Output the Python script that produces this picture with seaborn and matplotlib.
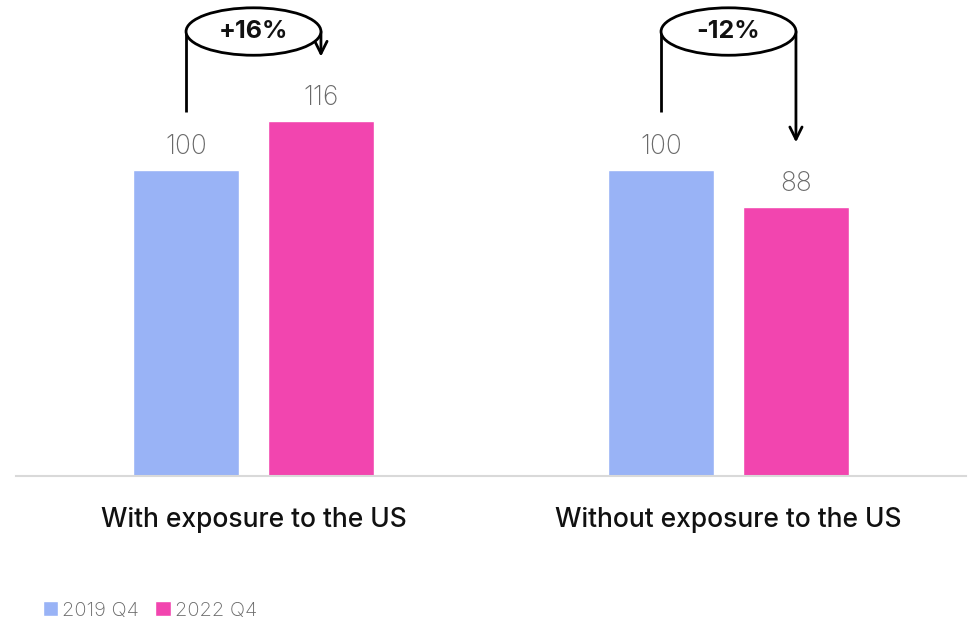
import pandas as pd
import matplotlib.pyplot as plt
import seaborn as sns
from matplotlib.patches import Ellipse, Patch

# data
groups = ['With exposure to the US', 'Without exposure to the US']
periods = ['2019 Q4', '2022 Q4']
values_2019 = [100, 100]
values_2022 = [116, 88]

colors = ['#99B3F6', '#F245AF']

df = pd.DataFrame({
    'group': groups * 2,
    'period': [periods[0]] * 2 + [periods[1]] * 2,
    'value': values_2019 + values_2022,
})

sns.set_theme(style='white')
plt.rcParams['font.family'] = ['Inter', 'DejaVu Sans']

fig = plt.figure(figsize=(9.69, 6.24), dpi=100)
ax = fig.add_axes([16 / 969, 148 / 624, 950 / 969, 476 / 624])

sns.barplot(data=df, x='group', y='value', hue='period', palette=colors,
            width=0.568, gap=0.215, saturation=1, legend=False, ax=ax)

ax.set_xlim(-0.5, 1.5)
ax.set_ylim(0, 155.5)
ax.set_xlabel('')
ax.set_ylabel('')
ax.set_yticks([])
for side in ['left', 'right', 'top']:
    ax.spines[side].set_visible(False)
ax.spines['bottom'].set_color('#D9D9D9')
ax.spines['bottom'].set_linewidth(1.5)
ax.tick_params(axis='x', length=0, pad=22)
for lbl in ax.get_xticklabels():
    lbl.set_fontsize(19)
    lbl.set_fontweight('medium')
    lbl.set_color('#111111')

for cont in ax.containers:
    ax.bar_label(cont, fmt='%d', padding=7, fontsize=19,
                 fontweight='light', color='#6A6A6A')

# change annotations: ellipse with % change, line from old bar, arrow to new bar
ell_y = 145.2
for i in range(len(groups)):
    b0 = ax.containers[0][i]
    b1 = ax.containers[1][i]
    x0 = b0.get_x() + b0.get_width() / 2
    x1 = b1.get_x() + b1.get_width() / 2
    v0 = values_2019[i]
    v1 = values_2022[i]
    pct = (v1 / v0 - 1) * 100
    ax.plot([x0, x0], [ell_y, v0 + 19], color='black', lw=2, solid_capstyle='butt')
    ax.annotate('', xy=(x1, v1 + 21), xytext=(x1, ell_y),
                arrowprops=dict(arrowstyle='->', color='black', lw=2,
                                mutation_scale=22, shrinkA=0, shrinkB=0))
    ax.add_patch(Ellipse(((x0 + x1) / 2, ell_y), x1 - x0, 15.5,
                         facecolor='white', edgecolor='black', lw=2, zorder=5))
    ax.text((x0 + x1) / 2, ell_y, f'{pct:+.0f}%', ha='center', va='center',
            fontsize=18, fontweight='bold', color='#111111', zorder=6)

handles = [Patch(facecolor=c, label=p) for c, p in zip(colors, periods)]
fig.legend(handles=handles, loc='lower left', bbox_to_anchor=(0.026, -0.022),
           ncol=2, frameon=False, handlelength=0.75, handleheight=0.75,
           handletextpad=0.2, columnspacing=0.8, labelcolor='#6A6A6A',
           prop={'weight': 'light', 'size': 14.5})

fig.savefig('out.png', dpi=100)
